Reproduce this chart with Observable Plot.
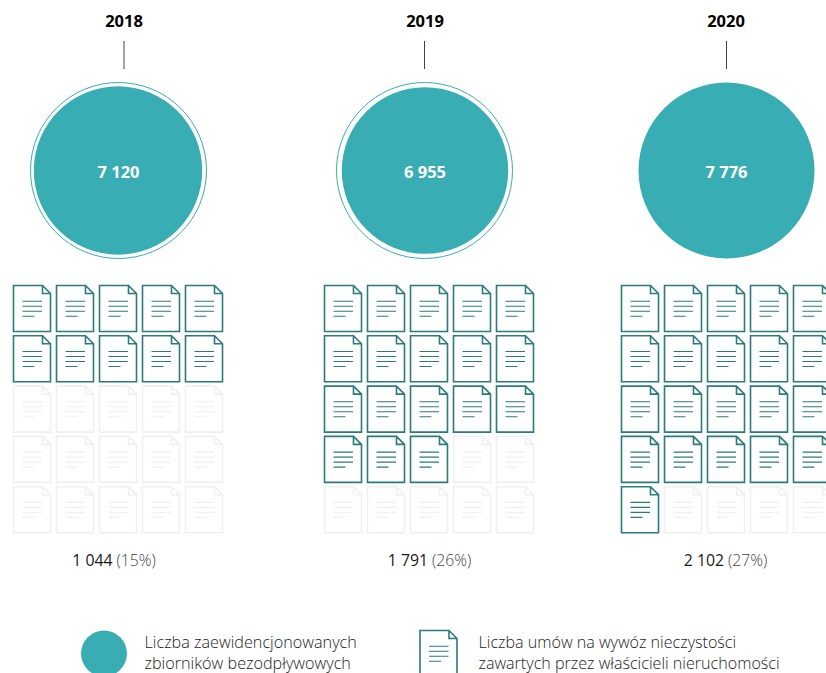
<!DOCTYPE html>
<html><head><meta charset="utf-8">
<script src="https://cdn.jsdelivr.net/npm/d3@7"></script>
<script src="https://cdn.jsdelivr.net/npm/@observablehq/plot@0.6"></script>
<style>html,body{margin:0;padding:0;background:#fff;overflow:hidden}svg{display:block}</style>
</head><body><div id="chart"></div>
<script>
// data
const years = ["2018", "2019", "2020"];
const tanks = [7120, 6955, 7776];
const tankLabels = ["7 120", "6 955", "7 776"];
const contracts = [1044, 1791, 2102];
const contractLabels = ["1 044", "1 791", "2 102"];
const shareLabels = ["(15%)", "(26%)", "(27%)"];
const legendTexts = [
  ["Liczba zaewidencjonowanych", "zbiorników bezodpływowych"],
  ["Liczba umów na wywóz nieczystości", "zawartych przez właścicieli nieruchomości"]
];
const contractsPerIcon = 100;

// layout (page coordinates for the identity scales)
const yearX = [123.5, 424.5, 725.5], ringX = [118, 424, 726], circleX = [117.5, 424.5, 726], gridX = [31.5, 342.5, 639.5];
const splitX = [113.5, 429, 725], labelX = [118, 424.5, 726], ruleX = [123.5, 424, 726];
const pitchX = 43, pitchY = 50.3, gridY = 308, cols = 5, rows = 5;
const teal = "#38aeb4", ink = "#2b7a7c", faint = "#f0f0f0";

const rows0 = years.map((year, i) => ({year, i, tank: tanks[i], max: d3.max(tanks)}));
const icons = [];
years.forEach((year, i) => {
  const n = Math.round(contracts[i] / contractsPerIcon);
  for (let k = 0; k < cols * rows; k++)
    icons.push({x: gridX[i] + (k % cols) * pitchX, y: gridY + Math.floor(k / cols) * pitchY, on: k < n});
});

// custom dot symbols: outline with fold, and text lines
const docOutline = {draw(c) {
  c.moveTo(-18.5, -23); c.lineTo(10.5, -23); c.lineTo(18.5, -15);
  c.lineTo(18.5, 23); c.lineTo(-18.5, 23); c.closePath();
  c.moveTo(10.5, -23); c.lineTo(10.5, -15); c.lineTo(18.5, -15);
}};
const docLines = {draw(c) {
  for (const [y, w] of [[-7.3, 19.5], [-2.3, 19.5], [2.7, 19.5], [7.7, 12]]) {
    c.moveTo(-9.5, y); c.lineTo(-9.5 + w, y);
  }
}};
const docMarks = (data, color) => [
  Plot.dot(data, {x: "x", y: "y", symbol: docOutline, r: 10, fill: "#fff", stroke: color, strokeWidth: 1.6}),
  Plot.dot(data, {x: "x", y: "y", symbol: docLines, r: 10, fill: "none", stroke: color, strokeWidth: 1.1})
];
const legendIcon = [{x: 438, y: 653}];
const font = "'Open Sans', sans-serif";

const chart = Plot.plot({
  width: 826, height: 673, margin: 0,
  x: {type: "identity", axis: null},
  y: {type: "identity", axis: null},
  r: {type: "sqrt", domain: [0, d3.max(tanks)], range: [0, 88]},
  style: {fontFamily: font, background: "#fff"},
  marks: [
    // years and leaders
    Plot.text(rows0, {x: d => yearX[d.i], y: 21, text: "year", fontSize: 16.5, fontWeight: 700, fill: "#000"}),
    Plot.ruleX(rows0, {x: d => ruleX[d.i], y1: 41, y2: 69, stroke: "#444", strokeWidth: 1}),
    // circles
    Plot.dot(rows0.filter(d => d.tank < d.max), {x: d => ringX[d.i], y: 170, r: "max", fill: "none", stroke: teal, strokeWidth: 1}),
    Plot.dot(rows0, {x: d => circleX[d.i], y: 170, r: "tank", fill: teal}),
    Plot.text(rows0, {x: d => labelX[d.i], y: 172, text: d => tankLabels[d.i], fill: "#fff", fontSize: 16.5, fontWeight: 700}),
    // waffle
    ...docMarks(icons.filter(d => !d.on), faint),
    ...docMarks(icons.filter(d => d.on), ink),
    // totals
    Plot.text(rows0, {x: d => splitX[d.i], y: 560, text: d => contractLabels[d.i], textAnchor: "end", dx: -1.5, fontSize: 15.8, fill: "#1a1a1a"}),
    Plot.text(rows0, {x: d => splitX[d.i], y: 560, text: d => shareLabels[d.i], textAnchor: "start", dx: 2.5, fontSize: 15.8, fontWeight: 300, fill: "#444"}),
    // legend
    Plot.dot([0], {x: 103.5, y: 653, r: 23, fill: teal}),
    ...docMarks(legendIcon, ink),
    Plot.text(legendTexts[0], {x: 144, y: (d, i) => 642 + i * 21, text: d => d, textAnchor: "start", fontSize: 16.2, fontWeight: 300, fill: "#222"}),
    Plot.text(legendTexts[1], {x: 478, y: (d, i) => 642 + i * 21, text: d => d, textAnchor: "start", fontSize: 16.1, fontWeight: 300, fill: "#222"})
  ]
});
document.getElementById("chart").append(chart);
</script></body></html>
